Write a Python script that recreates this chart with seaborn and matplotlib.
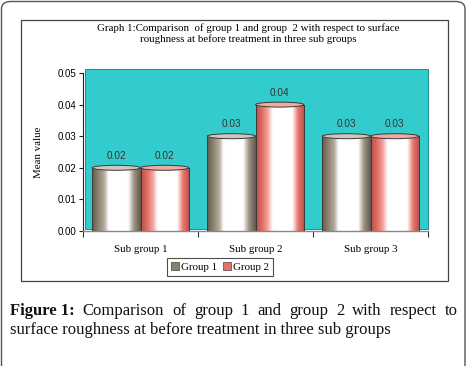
import numpy as np
import pandas as pd
import matplotlib
matplotlib.use("Agg")
import matplotlib.pyplot as plt
import seaborn as sns
from matplotlib.colors import LinearSegmentedColormap
from matplotlib.patches import Rectangle, Ellipse, FancyBboxPatch, Patch

# ── données ──
sous_groupes = ["Sub group 1", "Sub group 2", "Sub group 3"]
groupes = ["Group 1", "Group 2"]
valeurs_g1 = [0.02, 0.03, 0.03]
valeurs_g2 = [0.02, 0.04, 0.03]
yticks = [0.00, 0.01, 0.02, 0.03, 0.04, 0.05]

titre = ("Graph 1:Comparison  of group 1 and group  2 with respect to surface\n"
         "roughness at before treatment in three sub groups")
legende_1 = ["Figure 1:", "Comparison", "of", "group", "1", "and", "group", "2",
             "with", "respect", "to"]
legende_2 = "surface roughness at before treatment in three sub groups"

df = pd.DataFrame({
    "sous_groupe": sous_groupes * 2,
    "groupe": [groupes[0]] * 3 + [groupes[1]] * 3,
    "valeur": valeurs_g1 + valeurs_g2,
})

W, H = 468, 366
SERIF = "Liberation Serif"
SANS = "Liberation Sans"
TEAL = "#33CCCC"

# dégradés "cylindre"
cmaps = {
    "Group 1": LinearSegmentedColormap.from_list("g1", [
        (0.0, "#625a4f"), (0.12, "#8a8070"), (0.25, "#b5ab9c"), (0.34, "#ffffff"),
        (0.74, "#ffffff"), (0.86, "#9d9282"), (1.0, "#5e574d")]),
    "Group 2": LinearSegmentedColormap.from_list("g2", [
        (0.0, "#b8504a"), (0.12, "#e06a62"), (0.24, "#f0a49c"), (0.34, "#ffffff"),
        (0.74, "#ffffff"), (0.86, "#e8786f"), (1.0, "#b24c46")]),
}
couleurs_haut = {"Group 1": "#cfc7bb", "Group 2": "#f0aaa2"}
couleurs_leg = {"Group 1": "#8a8070", "Group 2": "#e8706a"}

fig = plt.figure(figsize=(W / 100, H / 100), dpi=100)

def fx(px):
    return px / W

def fy(py):
    return 1 - py / H

# cadre extérieur arrondi + cadre du graphique
fig.patches.append(FancyBboxPatch((fx(1.5), fy(372)), fx(463.5), (372 - 1.5) / H,
                                  boxstyle="round,pad=0,rounding_size=0.02",
                                  transform=fig.transFigure, fill=False,
                                  edgecolor="#555555", linewidth=1.0))
fig.patches.append(Rectangle((fx(20.5), fy(281)), fx(427), (281 - 19.5) / H,
                             transform=fig.transFigure, fill=False,
                             edgecolor="#444444", linewidth=0.9))

fig.text(fx(248), fy(23), titre, ha="center", va="top", family=SERIF,
         fontsize=7.8, linespacing=1.15)

ax = fig.add_axes([fx(83), fy(231), fx(428 - 83), (231 - 73) / H])
ax.set_facecolor("none")

sns.barplot(data=df, x="sous_groupe", y="valeur", hue="groupe",
            hue_order=groupes, order=sous_groupes, width=0.84,
            palette=couleurs_leg, legend=False, ax=ax)

ax.set_ylim(0, 0.05)
ax.set_xlim(-0.5, 2.5)

# mur de fond turquoise
ax.add_patch(Rectangle((0.006, 0.015), 0.994, 1.012, transform=ax.transAxes,
                       facecolor=TEAL, edgecolor="#1f8f8f", linewidth=0.7,
                       zorder=0, clip_on=False))

grad = np.linspace(0, 1, 256).reshape(1, -1)
haut_e = 0.05 * 5 / 158  # hauteur de l'ellipse (≈5 px)
for cont, g in zip(ax.containers, groupes):
    for bar in cont:
        x0, w, h = bar.get_x(), bar.get_width(), bar.get_height()
        bar.set_facecolor("none")
        bar.set_edgecolor("#3a3a3a")
        bar.set_linewidth(0.7)
        bar.set_zorder(3)
        im = ax.imshow(grad, extent=[x0, x0 + w, 0, h], aspect="auto",
                       cmap=cmaps[g], zorder=2)
        im.set_clip_path(bar)
        ax.add_patch(Ellipse((x0 + w / 2, h), w, haut_e, facecolor=couleurs_haut[g],
                             edgecolor="#3a3a3a", linewidth=0.7, zorder=4))
    ax.bar_label(cont, fmt="%.2f", padding=5, fontsize=7.2, family=SANS,
                 color="#333333")

ax.set_aspect("auto")
ax.set_ylim(0, 0.05)
ax.set_xlim(-0.5, 2.5)

ax.set_yticks(yticks)
ax.set_yticklabels([f"{v:.2f}" for v in yticks], family=SANS, fontsize=7)
ax.set_xticks(range(3))
ax.set_xticklabels(sous_groupes, family=SERIF, fontsize=7.8)
ax.set_xticks([-0.5, 0.5, 1.5, 2.5], minor=True)
ax.tick_params(axis="x", which="major", length=0, pad=10)
ax.tick_params(axis="x", which="minor", length=4, color="#333333", width=0.8)
ax.tick_params(axis="y", length=3, width=0.8, color="#222222", pad=2)
ax.set_xlabel("")
ax.set_ylabel("Mean value", family=SERIF, fontsize=7.8, labelpad=10)
for s in ["top", "right"]:
    ax.spines[s].set_visible(False)
ax.spines["left"].set_color("#222222")
ax.spines["left"].set_linewidth(0.8)
ax.spines["bottom"].set_color("#888888")
ax.spines["bottom"].set_linewidth(1.0)

poignees = [Patch(facecolor=couleurs_leg[g], edgecolor="#444444", linewidth=0.5)
            for g in groupes]
leg = fig.legend(poignees, groupes, loc="center", bbox_to_anchor=(fx(220), fy(267)),
                 ncol=2, frameon=True, fancybox=False, prop={"family": SERIF, "size": 7.8},
                 handlelength=0.7, handleheight=0.7, handletextpad=0.2,
                 columnspacing=0.6, borderpad=0.35)
leg.get_frame().set_edgecolor("#222222")
leg.get_frame().set_linewidth(0.8)

# légende de la figure, première ligne justifiée
rend = fig.canvas.get_renderer()
x_gauche, x_droite = 10, 458
textes = []
for i, mot in enumerate(legende_1):
    t = fig.text(0, fy(315), mot, family=SERIF, fontsize=12, va="baseline",
                 ha="left", fontweight="bold" if i == 0 else "normal",
                 color="#111111")
    textes.append(t)
largeurs = [t.get_window_extent(rend).width for t in textes]
espace = (x_droite - x_gauche - sum(largeurs)) / (len(textes) - 1)
x = x_gauche
for t, lw in zip(textes, largeurs):
    t.set_x(fx(x))
    x += lw + espace
fig.text(fx(x_gauche), fy(334), legende_2, family=SERIF, fontsize=12,
         va="baseline", ha="left", color="#111111")

fig.savefig("out.png", dpi=100)
